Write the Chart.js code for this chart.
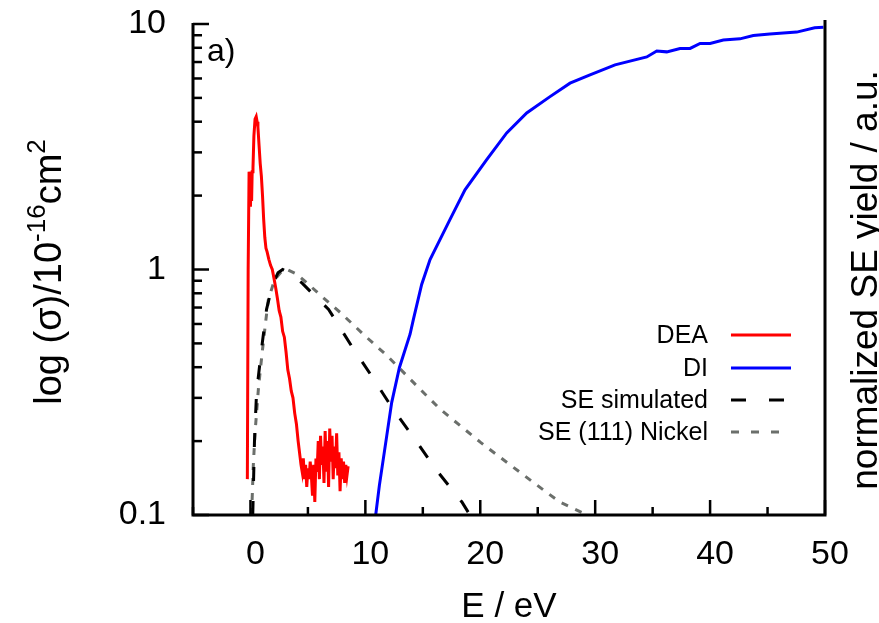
<!DOCTYPE html>
<html>
<head>
<meta charset="utf-8">
<script src="https://cdn.jsdelivr.net/npm/chart.js@4/dist/chart.umd.min.js"></script>
<style>
  html, body { margin: 0; padding: 0; background: #ffffff; }
  #wrap { width: 879px; height: 623px; position: relative; }
</style>
</head>
<body>
<div id="wrap"><canvas id="c" width="879" height="623"></canvas></div>
<script>
// ---------- data ----------
const xTicks = [-5, 0, 5, 10, 15, 20, 25, 30, 35, 40, 45, 50];
const xTickLabels = ['', '0', '', '10', '', '20', '', '30', '', '40', '', '50'];
const yTicks = [0.1, 0.2, 0.3, 0.4, 0.5, 0.6, 0.7, 0.8, 0.9, 1, 2, 3, 4, 5, 6, 7, 8, 9, 10];
const yTickLabels = ['0.1', '', '', '', '', '', '', '', '', '1', '', '', '', '', '', '', '', '', '10'];

const seriesNames = ['DEA', 'DI', 'SE simulated', 'SE (111) Nickel'];

const deaX = [-0.27, -0.2, -0.12, -0.05, 0.0, 0.05, 0.1, 0.15, 0.22, 0.3, 0.4, 0.5, 0.58, 0.65, 0.75, 0.85, 0.95, 1.05, 1.15, 1.25, 1.35, 1.45, 1.6, 1.75, 1.9, 2.05, 2.2, 2.35, 2.5, 2.65, 2.8, 2.95, 3.1, 3.25, 3.4, 3.55, 3.7, 3.85, 4.0, 4.15, 4.3, 4.4,
  4.5, 4.6, 4.7, 4.8, 4.9, 5.0, 5.1, 5.2, 5.3, 5.4, 5.5, 5.6, 5.7, 5.8, 5.9, 6.0, 6.1, 6.2, 6.3, 6.4, 6.5, 6.6, 6.7, 6.8, 6.9, 7.0, 7.1, 7.2, 7.3, 7.4, 7.5, 7.6, 7.7, 7.8, 7.9, 8.0, 8.1, 8.2, 8.3, 8.4, 8.5];
const deaY = [0.14, 1.0, 2.5, 2.4, 1.8, 2.3, 1.9, 2.5, 2.6, 3.5, 4.1, 4.2, 4.0, 3.8, 3.2, 2.7, 2.4, 2.0, 1.6, 1.35, 1.22, 1.18, 1.1, 1.04, 1.0, 0.92, 0.84, 0.76, 0.68, 0.64, 0.56, 0.53, 0.46, 0.39, 0.36, 0.32, 0.30, 0.26, 0.235, 0.20, 0.175, 0.16,
  0.15, 0.17, 0.14, 0.16, 0.13, 0.155, 0.14, 0.165, 0.145, 0.12, 0.16, 0.113, 0.17, 0.15, 0.2, 0.14, 0.21, 0.16, 0.19, 0.135, 0.22, 0.15, 0.2, 0.13, 0.225, 0.165, 0.21, 0.14, 0.19, 0.155, 0.215, 0.145, 0.18, 0.125, 0.17, 0.14, 0.165, 0.135, 0.16, 0.145, 0.158];

const diX = [10.9, 11.22, 11.86, 12.29, 12.96, 13.89, 14.18, 14.9, 15.63, 17.37, 18.67, 20.56, 22.3, 24.04, 26.07, 27.81, 29.55, 31.73, 34.49, 35.36, 36.23, 37.38, 38.26, 39.13, 40.0, 41.15, 42.6, 43.76, 45.2, 47.54, 49.1, 49.86];
const diY = [0.1, 0.132, 0.21, 0.287, 0.398, 0.545, 0.626, 0.869, 1.098, 1.6, 2.11, 2.8, 3.6, 4.34, 5.06, 5.74, 6.2, 6.82, 7.34, 7.76, 7.7, 7.95, 7.95, 8.33, 8.33, 8.6, 8.7, 8.97, 9.1, 9.27, 9.66, 9.7];

const simX = [0.2, 0.35, 0.53, 0.96, 1.4, 1.9, 2.4, 2.8, 3.4, 4.5, 5.6, 6.8, 8.8, 10.55, 12.4, 14.3, 16.2, 18.4, 19.1];
const simY = [0.1, 0.2, 0.315, 0.473, 0.688, 0.86, 0.97, 1.0, 0.97, 0.88, 0.78, 0.688, 0.488, 0.368, 0.27, 0.204, 0.152, 0.113, 0.1];

const niX = [0.1, 0.25, 0.4, 0.7, 1.0, 1.3, 1.55, 2.1, 2.7, 3.2, 4.0, 4.9, 6.3, 7.8, 10.1, 11.9, 14.2, 16.5, 20.0, 22.3, 24.6, 26.9, 29.3];
const niY = [0.1, 0.16, 0.217, 0.33, 0.45, 0.6, 0.75, 0.91, 0.98, 1.0, 0.96, 0.883, 0.77, 0.669, 0.53, 0.445, 0.346, 0.27, 0.198, 0.164, 0.136, 0.113, 0.1];

// ---------- helpers ----------
const FONT = "'Liberation Sans', Arial, Helvetica, sans-serif";
const pts = (xs, ys) => xs.map((x, i) => ({ x: x, y: ys[i] }));

const colors = ['#ff0000', '#0000ff', '#000000', '#6b6f6b'];
const dashes = [[], [], [14, 20], [7, 8]];

const datasets = [
  { label: seriesNames[0], data: pts(deaX, deaY), borderColor: colors[0], borderDash: dashes[0] },
  { label: seriesNames[1], data: pts(diX, diY), borderColor: colors[1], borderDash: dashes[1] },
  { label: seriesNames[2], data: pts(simX, simY), borderColor: colors[2], borderDash: dashes[2] },
  { label: seriesNames[3], data: pts(niX, niY), borderColor: colors[3], borderDash: dashes[3] }
].map(d => Object.assign(d, { showLine: true, pointRadius: 0, tension: 0, fill: false, borderWidth: 3 }));

const framePlugin = {
  id: 'frame',
  afterDatasetsDraw(chart) {
    const ctx = chart.ctx;
    const a = chart.chartArea;
    const xs = chart.scales.x, ys = chart.scales.y;
    ctx.save();
    ctx.strokeStyle = '#000';
    ctx.lineCap = 'butt';
    ctx.lineWidth = 2.5;
    ys.ticks.forEach((t, i) => {
      const y = ys.getPixelForValue(t.value);
      const major = yTickLabels[i] !== '';
      ctx.beginPath();
      ctx.moveTo(a.left, y);
      ctx.lineTo(a.left + (major ? 16 : 9), y);
      ctx.stroke();
    });
    xs.ticks.forEach((t, i) => {
      const x = xs.getPixelForValue(t.value);
      const major = xTickLabels[i] !== '';
      ctx.beginPath();
      ctx.moveTo(x, a.bottom);
      ctx.lineTo(x, a.bottom - (major ? 15 : 8));
      ctx.stroke();
    });
    ctx.lineWidth = 3;
    ctx.beginPath();
    ctx.moveTo(a.left, a.top - 1);
    ctx.lineTo(a.left, a.bottom);
    ctx.lineTo(a.right, a.bottom);
    ctx.lineTo(a.right, a.top - 4);
    ctx.stroke();
    ctx.restore();
  },
  afterDraw(chart) {
    const ctx = chart.ctx;
    const a = chart.chartArea;
    ctx.save();
    ctx.fillStyle = '#000';
    ctx.font = '32px ' + FONT;
    ctx.textAlign = 'left';
    ctx.textBaseline = 'alphabetic';
    ctx.fillText('a)', a.left + 14, 61);

    ctx.font = '35px ' + FONT;
    ctx.textAlign = 'center';
    ctx.fillText('E / eV', (a.left + a.right) / 2, 617);

    const parts = [
      { t: 'log (σ)/10', s: 38, dy: 0 },
      { t: '-16', s: 26, dy: -16 },
      { t: 'cm', s: 38, dy: 0 },
      { t: '2', s: 26, dy: -16 }
    ];
    let total = 0;
    parts.forEach(p => { ctx.font = p.s + 'px ' + FONT; p.w = ctx.measureText(p.t).width; total += p.w; });
    ctx.save();
    ctx.translate(61, 272);
    ctx.rotate(-Math.PI / 2);
    ctx.textAlign = 'left';
    let cx = -total / 2;
    parts.forEach(p => { ctx.font = p.s + 'px ' + FONT; ctx.fillText(p.t, cx, p.dy); cx += p.w; });
    ctx.restore();

    ctx.save();
    ctx.translate(877, 280);
    ctx.rotate(-Math.PI / 2);
    ctx.font = '37px ' + FONT;
    ctx.textAlign = 'center';
    ctx.fillText('normalized SE yield / a.u.', 0, 0);
    ctx.restore();

    const rowsY = [335, 368, 400, 432];
    ctx.font = '25px ' + FONT;
    ctx.textAlign = 'right';
    ctx.textBaseline = 'middle';
    chart.data.datasets.forEach((d, i) => {
      ctx.fillStyle = '#000';
      ctx.fillText(d.label, 708, rowsY[i] + 1);
      ctx.strokeStyle = d.borderColor;
      ctx.lineWidth = 3;
      ctx.setLineDash(i === 2 ? [15, 23] : (i === 3 ? [8, 12] : []));
      ctx.beginPath();
      ctx.moveTo(731, rowsY[i]);
      ctx.lineTo(791, rowsY[i]);
      ctx.stroke();
    });
    ctx.setLineDash([]);
    ctx.restore();
  }
};

new Chart(document.getElementById('c'), {
  type: 'scatter',
  data: { datasets: datasets },
  options: {
    responsive: false,
    animation: false,
    devicePixelRatio: 1,
    layout: { padding: { left: 0, right: 54, top: 24, bottom: 0 } },
    plugins: { legend: { display: false }, tooltip: { enabled: false } },
    scales: {
      x: {
        type: 'linear',
        min: -5, max: 50,
        afterBuildTicks: s => { s.ticks = xTicks.map(v => ({ value: v })); },
        afterFit: s => { s.height = 108; s.paddingLeft = 0; s.paddingRight = 0; },
        grid: { display: false, drawTicks: false },
        border: { display: false },
        ticks: {
          autoSkip: false, maxRotation: 0, padding: 19, labelOffset: 5,
          color: '#000',
          font: { family: FONT, size: 34 },
          callback: (v, i) => xTickLabels[i]
        }
      },
      y: {
        type: 'logarithmic',
        min: 0.1, max: 10,
        afterBuildTicks: s => { s.ticks = yTicks.map(v => ({ value: v })); },
        afterFit: s => { s.width = 193; s.paddingTop = 0; s.paddingBottom = 0; },
        grid: { display: false, drawTicks: false },
        border: { display: false },
        ticks: {
          autoSkip: false, padding: 27,
          color: '#000',
          font: { family: FONT, size: 34 },
          callback: (v, i) => yTickLabels[i]
        }
      }
    }
  },
  plugins: [framePlugin]
});
</script>
</body>
</html>
